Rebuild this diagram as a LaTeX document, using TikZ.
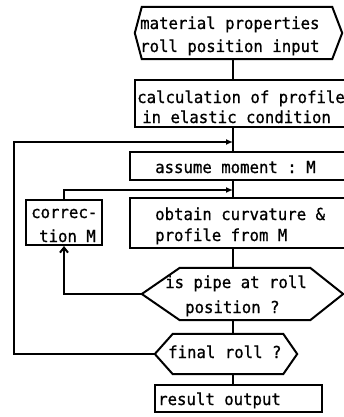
\documentclass[tikz,border=0pt]{standalone}
\usepackage{fontspec}
\setmonofont[FakeStretch=0.95,FakeBold=0.8]{DejaVu Sans Mono}
\usetikzlibrary{calc,arrows.meta}
\newcommand\hexshape[3]{\draw[ln] (#1.west) -- ([xshift=#2pt]#1.north west) -- ([xshift=-#3pt]#1.north east) -- (#1.east) -- ([xshift=-#3pt]#1.south east) -- ([xshift=#2pt]#1.south west) -- cycle;}
\begin{document}
\begin{tikzpicture}[x=1pt,y=-1pt,
  ln/.style={line width=2pt},
  shp/.style={draw, line width=2pt, rectangle, inner sep=0pt},
  hx/.style={rectangle, inner sep=0pt, draw=none},
  txt/.style={anchor=base west, inner sep=0pt, font=\ttfamily\fontsize{16.5}{20}\selectfont},
  fwd/.style={ln, -{Latex[length=7pt,width=6pt]}},
  upar/.style={ln, -{Straight Barb[length=5pt,width=8pt]}}
]
\useasboundingbox (0,0) rectangle (344,417);
% shapes
\node[hx, minimum width=207pt, minimum height=52pt] (inp) at (238.5,33) {};
\hexshape{inp}{7}{10}
\node[shp, minimum width=211pt, minimum height=47pt] (calc) at (240.5,103.5) {};
\node[shp, minimum width=216pt, minimum height=28pt] (assume) at (238,166) {};
\node[shp, minimum width=216pt, minimum height=50pt] (obtain) at (238,223) {};
\node[shp, minimum width=76pt, minimum height=45pt] (corr) at (64,222.5) {};
\node[hx, minimum width=201pt, minimum height=52pt] (dec) at (242.5,294) {};
\hexshape{dec}{38}{33}
\node[hx, minimum width=142pt, minimum height=40pt] (fin) at (226,354) {};
\hexshape{fin}{18}{14}
\node[shp, minimum width=167pt, minimum height=27pt] (res) at (238.5,398.5) {};
% texts
\node[txt] (ta1) at (140,29) {material properties};
\node[txt] (ta2) at (140,52) {roll position input};
\node[txt] (tb1) at (137,103) {calculation of profile};
\node[txt] (tb2) at (142,123) {in elastic condition};
\node[txt] (tc) at (155,173) {assume moment : M};
\node[txt] (td1) at (155,220) {obtain curvature \&};
\node[txt] (td2) at (155,241) {profile from M};
\node[txt] (te1) at (31,218) {correc-};
\node[txt] (te2) at (39,242) {tion M};
\node[txt] (tf1) at (165,288) {is pipe at roll};
\node[txt] (tf2) at (185,313) {position ?};
\node[txt] (tg) at (168,358) {final roll ?};
\node[txt] (th) at (158,405) {result output};
% connectors
\coordinate (mx) at (233,0);
\draw[ln] (inp.south -| mx) -- (calc.north -| mx);
\draw[ln] (calc.south -| mx) -- (assume.north -| mx);
\draw[ln] (assume.south -| mx) -- (obtain.north -| mx);
\draw[ln] (obtain.south -| mx) -- (dec.north -| mx);
\draw[ln] (dec.south -| mx) -- (fin.north -| mx);
\draw[ln] (fin.south -| mx) -- (res.north -| mx);
\coordinate (j1) at (233,142);
\coordinate (l1) at (14,142);
\draw[fwd] (fin.west) -| (l1) -- (j1);
\coordinate (j2) at (233,190);
\draw[fwd] (corr.north) |- (j2);
\draw[upar] (dec.west) -| (corr.south);
\end{tikzpicture}
\end{document}
